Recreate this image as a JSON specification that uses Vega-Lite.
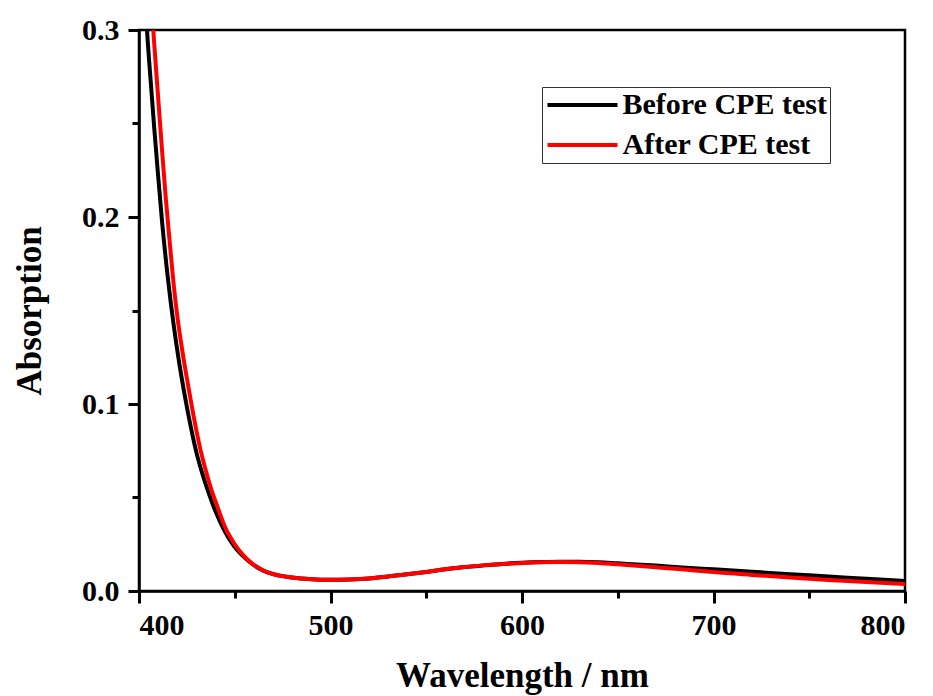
{
  "$schema": "https://vega.github.io/schema/vega-lite/v6.json",
  "width": 766,
  "height": 561,
  "autosize": {"type": "none"},
  "padding": {"left": 139, "top": 30, "right": 28, "bottom": 105},
  "background": "white",
  "config": {
    "view": {"stroke": "black", "strokeWidth": 2.5},
    "axis": {"grid": false}
  },
  "data": {"values": [
    {"wl": 402, "abs": 0.345, "series": "Before CPE test"},
    {"wl": 404, "abs": 0.303, "series": "Before CPE test"},
    {"wl": 406, "abs": 0.274, "series": "Before CPE test"},
    {"wl": 408, "abs": 0.247, "series": "Before CPE test"},
    {"wl": 410, "abs": 0.222, "series": "Before CPE test"},
    {"wl": 412, "abs": 0.198, "series": "Before CPE test"},
    {"wl": 415, "abs": 0.168, "series": "Before CPE test"},
    {"wl": 418, "abs": 0.143, "series": "Before CPE test"},
    {"wl": 421, "abs": 0.122, "series": "Before CPE test"},
    {"wl": 424, "abs": 0.104, "series": "Before CPE test"},
    {"wl": 427, "abs": 0.088, "series": "Before CPE test"},
    {"wl": 430, "abs": 0.074, "series": "Before CPE test"},
    {"wl": 433, "abs": 0.063, "series": "Before CPE test"},
    {"wl": 436, "abs": 0.0535, "series": "Before CPE test"},
    {"wl": 440, "abs": 0.0425, "series": "Before CPE test"},
    {"wl": 445, "abs": 0.0315, "series": "Before CPE test"},
    {"wl": 450, "abs": 0.0235, "series": "Before CPE test"},
    {"wl": 455, "abs": 0.018, "series": "Before CPE test"},
    {"wl": 460, "abs": 0.0138, "series": "Before CPE test"},
    {"wl": 465, "abs": 0.0108, "series": "Before CPE test"},
    {"wl": 470, "abs": 0.009, "series": "Before CPE test"},
    {"wl": 480, "abs": 0.0072, "series": "Before CPE test"},
    {"wl": 490, "abs": 0.0063, "series": "Before CPE test"},
    {"wl": 500, "abs": 0.006, "series": "Before CPE test"},
    {"wl": 510, "abs": 0.0062, "series": "Before CPE test"},
    {"wl": 520, "abs": 0.0067, "series": "Before CPE test"},
    {"wl": 530, "abs": 0.0077, "series": "Before CPE test"},
    {"wl": 540, "abs": 0.0089, "series": "Before CPE test"},
    {"wl": 550, "abs": 0.0102, "series": "Before CPE test"},
    {"wl": 560, "abs": 0.0116, "series": "Before CPE test"},
    {"wl": 570, "abs": 0.0128, "series": "Before CPE test"},
    {"wl": 580, "abs": 0.0137, "series": "Before CPE test"},
    {"wl": 590, "abs": 0.0145, "series": "Before CPE test"},
    {"wl": 600, "abs": 0.0151, "series": "Before CPE test"},
    {"wl": 610, "abs": 0.0155, "series": "Before CPE test"},
    {"wl": 620, "abs": 0.0157, "series": "Before CPE test"},
    {"wl": 630, "abs": 0.0157, "series": "Before CPE test"},
    {"wl": 640, "abs": 0.0154, "series": "Before CPE test"},
    {"wl": 650, "abs": 0.0148, "series": "Before CPE test"},
    {"wl": 660, "abs": 0.0142, "series": "Before CPE test"},
    {"wl": 670, "abs": 0.0136, "series": "Before CPE test"},
    {"wl": 680, "abs": 0.0129, "series": "Before CPE test"},
    {"wl": 690, "abs": 0.0122, "series": "Before CPE test"},
    {"wl": 700, "abs": 0.0116, "series": "Before CPE test"},
    {"wl": 720, "abs": 0.0103, "series": "Before CPE test"},
    {"wl": 740, "abs": 0.009, "series": "Before CPE test"},
    {"wl": 760, "abs": 0.0078, "series": "Before CPE test"},
    {"wl": 780, "abs": 0.0065, "series": "Before CPE test"},
    {"wl": 800, "abs": 0.0053, "series": "Before CPE test"},
    {"wl": 405, "abs": 0.345, "series": "After CPE test"},
    {"wl": 407, "abs": 0.307, "series": "After CPE test"},
    {"wl": 408, "abs": 0.292, "series": "After CPE test"},
    {"wl": 410, "abs": 0.264, "series": "After CPE test"},
    {"wl": 412, "abs": 0.236, "series": "After CPE test"},
    {"wl": 414, "abs": 0.21, "series": "After CPE test"},
    {"wl": 416, "abs": 0.187, "series": "After CPE test"},
    {"wl": 418, "abs": 0.165, "series": "After CPE test"},
    {"wl": 420, "abs": 0.147, "series": "After CPE test"},
    {"wl": 423, "abs": 0.126, "series": "After CPE test"},
    {"wl": 426, "abs": 0.108, "series": "After CPE test"},
    {"wl": 429, "abs": 0.091, "series": "After CPE test"},
    {"wl": 432, "abs": 0.076, "series": "After CPE test"},
    {"wl": 435, "abs": 0.064, "series": "After CPE test"},
    {"wl": 438, "abs": 0.0535, "series": "After CPE test"},
    {"wl": 441, "abs": 0.045, "series": "After CPE test"},
    {"wl": 445, "abs": 0.034, "series": "After CPE test"},
    {"wl": 450, "abs": 0.025, "series": "After CPE test"},
    {"wl": 455, "abs": 0.0185, "series": "After CPE test"},
    {"wl": 460, "abs": 0.014, "series": "After CPE test"},
    {"wl": 465, "abs": 0.011, "series": "After CPE test"},
    {"wl": 470, "abs": 0.0091, "series": "After CPE test"},
    {"wl": 480, "abs": 0.0072, "series": "After CPE test"},
    {"wl": 490, "abs": 0.0063, "series": "After CPE test"},
    {"wl": 500, "abs": 0.006, "series": "After CPE test"},
    {"wl": 510, "abs": 0.0062, "series": "After CPE test"},
    {"wl": 520, "abs": 0.0067, "series": "After CPE test"},
    {"wl": 530, "abs": 0.0077, "series": "After CPE test"},
    {"wl": 540, "abs": 0.0089, "series": "After CPE test"},
    {"wl": 550, "abs": 0.0102, "series": "After CPE test"},
    {"wl": 560, "abs": 0.0116, "series": "After CPE test"},
    {"wl": 570, "abs": 0.0128, "series": "After CPE test"},
    {"wl": 580, "abs": 0.0137, "series": "After CPE test"},
    {"wl": 590, "abs": 0.0144, "series": "After CPE test"},
    {"wl": 600, "abs": 0.015, "series": "After CPE test"},
    {"wl": 610, "abs": 0.0154, "series": "After CPE test"},
    {"wl": 620, "abs": 0.0155, "series": "After CPE test"},
    {"wl": 630, "abs": 0.0154, "series": "After CPE test"},
    {"wl": 640, "abs": 0.015, "series": "After CPE test"},
    {"wl": 650, "abs": 0.0143, "series": "After CPE test"},
    {"wl": 660, "abs": 0.0135, "series": "After CPE test"},
    {"wl": 670, "abs": 0.0127, "series": "After CPE test"},
    {"wl": 680, "abs": 0.0119, "series": "After CPE test"},
    {"wl": 690, "abs": 0.011, "series": "After CPE test"},
    {"wl": 700, "abs": 0.0101, "series": "After CPE test"},
    {"wl": 720, "abs": 0.0086, "series": "After CPE test"},
    {"wl": 740, "abs": 0.0072, "series": "After CPE test"},
    {"wl": 760, "abs": 0.0059, "series": "After CPE test"},
    {"wl": 780, "abs": 0.0048, "series": "After CPE test"},
    {"wl": 800, "abs": 0.0037, "series": "After CPE test"}
  ]},
  "mark": {"type": "line", "strokeWidth": 4, "clip": true, "interpolate": "monotone"},
  "encoding": {
    "x": {"field": "wl", "type": "quantitative",
      "scale": {"domain": [400, 800], "nice": false},
      "axis": {
        "title": "Wavelength / nm",
        "values": [400, 450, 500, 550, 600, 650, 700, 750, 800],
        "labelExpr": "datum.value % 100 === 0 ? datum.label : ''",
        "tickSize": {"condition": {"test": "datum.value % 100 === 0", "value": 12}, "value": 7},
        "tickColor": "black", "tickWidth": 3,
        "domainColor": "black", "domainWidth": 2.5,
        "labelFont": "Liberation Serif", "labelFontWeight": "bold", "labelFontSize": 30, "labelColor": "black",
        "titleFont": "Liberation Serif", "titleFontWeight": "bold", "titleFontSize": 35, "titleColor": "black",
        "labelPadding": 7,
        "titlePadding": 18
      }},
    "y": {"field": "abs", "type": "quantitative",
      "scale": {"domain": [0, 0.3], "nice": false},
      "axis": {
        "title": "Absorption",
        "values": [0, 0.05, 0.1, 0.15, 0.2, 0.25, 0.3],
        "labelExpr": "round(datum.value * 100) % 10 === 0 ? format(datum.value, '.1f') : ''",
        "tickSize": {"condition": {"test": "round(datum.value * 100) % 10 === 0", "value": 11}, "value": 7},
        "tickColor": "black", "tickWidth": 3,
        "domainColor": "black", "domainWidth": 2.5,
        "labelFont": "Liberation Serif", "labelFontWeight": "bold", "labelFontSize": 30, "labelColor": "black",
        "titleFont": "Liberation Serif", "titleFontWeight": "bold", "titleFontSize": 35, "titleColor": "black",
        "labelPadding": 9,
        "titlePadding": 34
      }},
    "color": {"field": "series", "type": "nominal",
      "scale": {"domain": ["Before CPE test", "After CPE test"], "range": ["black", "red"]},
      "legend": {
        "title": null,
        "orient": "none",
        "legendX": 403,
        "legendY": 57,
        "symbolType": "M-2.8,0H2.8",
        "symbolSize": 625,
        "symbolStrokeWidth": 4,
        "symbolOffset": 22.5,
        "labelOffset": 25,
        "labelLimit": 0,
        "labelFont": "Liberation Serif", "labelFontWeight": "bold", "labelFontSize": 30, "labelColor": "black",
        "strokeColor": "#333333",
        "padding": 3,
        "rowPadding": 10
      }}
  }
}
